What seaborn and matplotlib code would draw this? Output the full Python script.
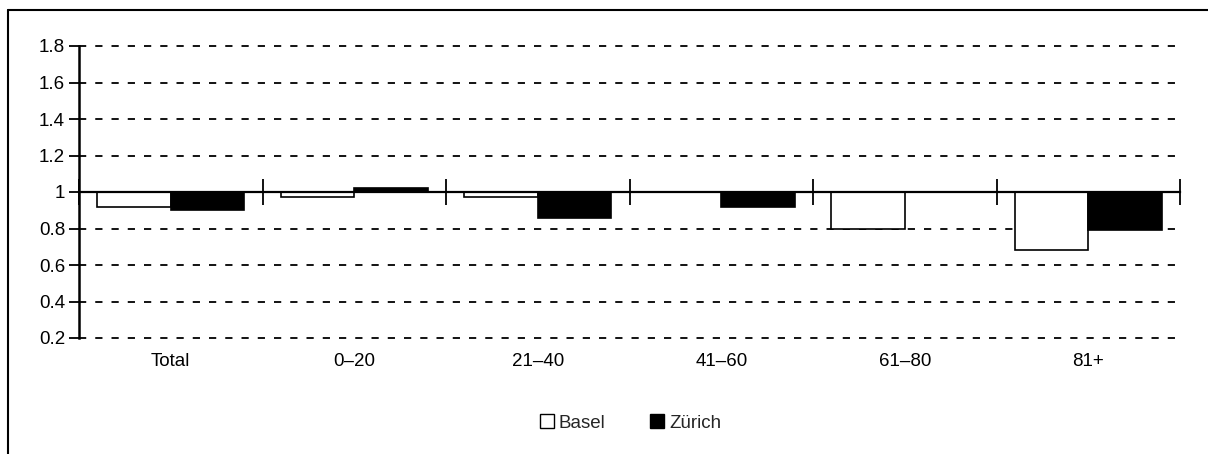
import matplotlib
matplotlib.use("Agg")
import matplotlib.pyplot as plt
from matplotlib.lines import Line2D
from matplotlib.patches import Patch
import seaborn as sns
import pandas as pd
import numpy as np

# Age groups and relative ratios (1 = reference level)
categories = ["Total", "0\u201320", "21\u201340", "41\u201360", "61\u201380", "81+"]
basel = [0.92, 0.97, 0.97, 1.00, 0.80, 0.68]
zurich = [0.90, 1.02, 0.86, 0.92, 1.00, 0.79]
series_names = ["Basel", "Z\u00fcrich"]
y_ticks = [0.2, 0.4, 0.6, 0.8, 1.0, 1.2, 1.4, 1.6, 1.8]
y_tick_labels = ["0.2", "0.4", "0.6", "0.8", "1", "1.2", "1.4", "1.6", "1.8"]

baseline = 1.0
FS = 13.5

df = pd.DataFrame({
    "group": categories * 2,
    "city": [series_names[0]] * len(categories) + [series_names[1]] * len(categories),
    "ratio": basel + zurich,
})
df["delta"] = df["ratio"] - baseline

sns.set_theme(style="white")
plt.rcParams["font.family"] = ["Liberation Sans", "DejaVu Sans"]
plt.rcParams["font.size"] = FS

fig = plt.figure(figsize=(12.08, 4.54), dpi=100)
ax = fig.add_axes([79 / 1208, 1 - 338 / 454, (1180 - 79) / 1208, (338 - 46) / 454])

sns.barplot(
    data=df, x="group", y="delta", hue="city", order=categories,
    hue_order=series_names, palette={"Basel": "white", "Z\u00fcrich": "black"},
    edgecolor="black", linewidth=1.2, width=0.8, bottom=baseline,
    errorbar=None, legend=False, ax=ax, zorder=3,
)

ax.set_xlim(-0.5, len(categories) - 0.5)
ax.set_ylim(0.2, 1.8)
ax.set_xlabel("")
ax.set_ylabel("")

# dashed grid at every level except the baseline, where the axis line sits
for yv in y_ticks:
    if yv != baseline:
        ax.axhline(yv, color="black", lw=1.3, ls=(0, (4.0, 5.0)), zorder=1,
                   clip_on=False)

ax.set_yticks(y_ticks)
ax.set_yticklabels(y_tick_labels)
ax.tick_params(axis="y", direction="out", length=7, width=1.3, colors="black",
               labelsize=FS, pad=3, left=True)

# category axis drawn at y = 1 with boundary ticks crossing it
for side in ["top", "right"]:
    ax.spines[side].set_visible(False)
ax.spines["left"].set_color("black")
ax.spines["left"].set_linewidth(1.8)
ax.spines["bottom"].set_position(("data", baseline))
ax.spines["bottom"].set_color("black")
ax.spines["bottom"].set_linewidth(1.6)
ax.spines["bottom"].set_zorder(4)

ax.set_xticks(np.arange(len(categories) + 1) - 0.5)
ax.set_xticklabels([])
ax.tick_params(axis="x", direction="inout", length=19, width=1.3, colors="black",
               bottom=True)

# category names along the bottom of the plot
sec = ax.secondary_xaxis("bottom")
sec.set_xticks(range(len(categories)))
sec.set_xticklabels(categories)
sec.tick_params(length=0, labelsize=FS, pad=11, colors="black")
sec.spines["bottom"].set_visible(False)

handles = [
    Patch(facecolor="white", edgecolor="black", linewidth=1.0, label=series_names[0]),
    Patch(facecolor="black", edgecolor="black", linewidth=1.0, label=series_names[1]),
]
fig.legend(handles=handles, loc="center", bbox_to_anchor=(0.522, 1 - 423 / 454),
           ncol=2, frameon=False, fontsize=FS, handlelength=0.75,
           handleheight=0.75, handletextpad=0.25, columnspacing=2.4)

# outer frame: left and top edges
fx, fy = 8 / 1208, 1 - 10 / 454
fig.add_artist(Line2D([fx, fx], [0, fy], transform=fig.transFigure,
                      color="black", lw=1.5))
fig.add_artist(Line2D([fx, 1], [fy, fy], transform=fig.transFigure,
                      color="black", lw=1.5))

fig.savefig("out.png", dpi=100, facecolor="white")
